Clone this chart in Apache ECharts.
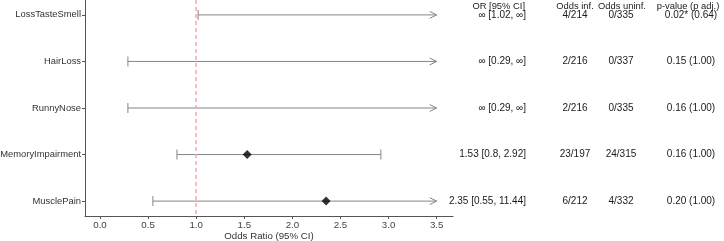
<!DOCTYPE html>
<html>
<head>
<meta charset="utf-8">
<script src="https://cdn.jsdelivr.net/npm/echarts@6/dist/echarts.min.js"></script>
<style>html,body{margin:0;padding:0;background:#fff}#c{width:724px;height:241px}</style>
</head>
<body>
<div id="c"></div>
<script>
// ---- data ----
const categories = ['LossTasteSmell', 'HairLoss', 'RunnyNose', 'MemoryImpairment', 'MusclePain'];
const orValues = [null, null, null, 1.53, 2.35];      // null = infinite
const ciLower = [1.02, 0.29, 0.29, 0.8, 0.55];
const ciUpper = [null, null, null, 2.92, 11.44];      // null = infinite
const orText = ['∞ [1.02, ∞]', '∞ [0.29, ∞]', '∞ [0.29, ∞]', '1.53 [0.8, 2.92]', '2.35 [0.55, 11.44]'];
const oddsInf = ['4/214', '2/216', '2/216', '23/197', '6/212'];
const oddsUninf = ['0/335', '0/337', '0/335', '24/315', '4/332'];
const pText = ['0.02* (0.64)', '0.15 (1.00)', '0.16 (1.00)', '0.16 (1.00)', '0.20 (1.00)'];
const headers = ['OR [95% CI]', 'Odds inf.', 'Odds uninf.', 'p-value (p adj.)'];
const xTicks = [0, 0.5, 1, 1.5, 2, 2.5, 3, 3.5];
const refValue = 1;

// ---- layout constants ----
const X_MIN = -0.156, X_MAX = 3.67, X_DRAW_MAX = 3.5;
const Y_MIN = -0.32, Y_MAX = 4.32;
const HEADER_Y = -0.18;
const colX = [526, 575, 621, 691];
const colAlign = ['right', 'center', 'center', 'center'];
const headerX = [525, 575, 622, 688];
const FONT = '"Liberation Sans", Arial, sans-serif';

const barData = categories.map((c, i) => {
  const hi = ciUpper[i] == null ? Infinity : ciUpper[i];
  return [i, ciLower[i], Math.min(hi, X_DRAW_MAX), hi > X_DRAW_MAX ? 1 : 0];
});
const pointData = [];
orValues.forEach((v, i) => { if (v != null) pointData.push([v, i]); });

const tableCols = [orText, oddsInf, oddsUninf, pText];
const tableData = [];
tableCols.forEach((col, ci) => {
  col.forEach((t, ri) => tableData.push({ value: [colX[ci], ri], txt: t, align: colAlign[ci], size: 10 }));
  tableData.push({ value: [headerX[ci], HEADER_Y], txt: headers[ci], align: colAlign[ci], size: 9.4 });
});

const chart = echarts.init(document.getElementById('c'), null, { renderer: 'canvas' });
chart.setOption({
  animation: false,
  textStyle: { fontFamily: FONT },
  grid: [
    { left: 85, right: 271, top: 0, bottom: 25, containLabel: false, outerBoundsMode: 'none' },
    { left: 455, right: 0, top: 0, bottom: 25, containLabel: false, outerBoundsMode: 'none' }
  ],
  xAxis: [{
    type: 'value', gridIndex: 0, min: X_MIN, max: X_MAX,
    name: 'Odds Ratio (95% CI)', nameLocation: 'middle', nameGap: 15, nameMoveOverlap: false,
    nameTextStyle: { fontSize: 9.7, color: '#333', fontFamily: FONT, verticalAlign: 'top' },
    axisLine: { show: true, onZero: false, lineStyle: { color: '#555', width: 1 } },
    axisTick: { show: true, length: 3, customValues: xTicks, lineStyle: { color: '#555' } },
    axisLabel: { customValues: xTicks, margin: 4, fontSize: 9.7, color: '#444', fontFamily: FONT,
      formatter: v => v.toFixed(1) },
    splitLine: { show: false }
  }, {
    type: 'value', gridIndex: 1, min: 455, max: 724, show: false
  }],
  yAxis: [{
    type: 'value', gridIndex: 0, min: Y_MIN, max: Y_MAX, inverse: true,
    axisLine: { show: true, onZero: false, lineStyle: { color: '#555', width: 1 } },
    axisTick: { show: true, length: 3, customValues: [0, 1, 2, 3, 4], lineStyle: { color: '#555' } },
    axisLabel: { customValues: [0, 1, 2, 3, 4], margin: 4, fontSize: 9.4, color: '#333', fontFamily: FONT,
      formatter: v => categories[Math.round(v)] },
    splitLine: { show: false }
  }, {
    type: 'value', gridIndex: 1, min: Y_MIN, max: Y_MAX, inverse: true, show: false
  }],
  series: [{
    type: 'custom',
    xAxisIndex: 0, yAxisIndex: 0,
    data: barData,
    encode: { x: [1, 2], y: 0 },
    renderItem: (params, api) => {
      const y = api.value(0), lo = api.value(1), hi = api.value(2), arrow = api.value(3);
      const p1 = api.coord([lo, y]), p2 = api.coord([hi, y]);
      const st = { stroke: '#858585', lineWidth: 1, fill: null };
      const ch = [
        { type: 'line', shape: { x1: p1[0], y1: p1[1], x2: p2[0], y2: p2[1] }, style: st },
        { type: 'line', shape: { x1: p1[0], y1: p1[1] - 5, x2: p1[0], y2: p1[1] + 5 }, style: st }
      ];
      if (arrow) {
        ch.push({ type: 'polyline', shape: { points: [[p2[0] - 7, p2[1] - 3.5], [p2[0], p2[1]], [p2[0] - 7, p2[1] + 3.5]] }, style: st });
      } else {
        ch.push({ type: 'line', shape: { x1: p2[0], y1: p2[1] - 5, x2: p2[0], y2: p2[1] + 5 }, style: st });
      }
      return { type: 'group', children: ch };
    },
    z: 2
  }, {
    type: 'scatter',
    xAxisIndex: 0, yAxisIndex: 0,
    data: pointData,
    symbol: 'diamond', symbolSize: 9,
    itemStyle: { color: '#000' },
    z: 3,
    markLine: {
      silent: true, symbol: 'none', label: { show: false },
      lineStyle: { color: '#f7a8a8', width: 1.5, type: [4, 3] },
      data: [{ xAxis: refValue }]
    }
  }, {
    type: 'custom',
    xAxisIndex: 1, yAxisIndex: 1,
    data: tableData,
    renderItem: (params, api) => {
      const d = tableData[params.dataIndex];
      const p = api.coord([api.value(0), api.value(1)]);
      return { type: 'text', x: p[0], y: p[1],
        style: { text: d.txt, textAlign: d.align, textVerticalAlign: 'middle',
          font: d.size + 'px ' + FONT, fill: '#1a1a1a' } };
    },
    clip: false
  }]
});
</script>
</body>
</html>
